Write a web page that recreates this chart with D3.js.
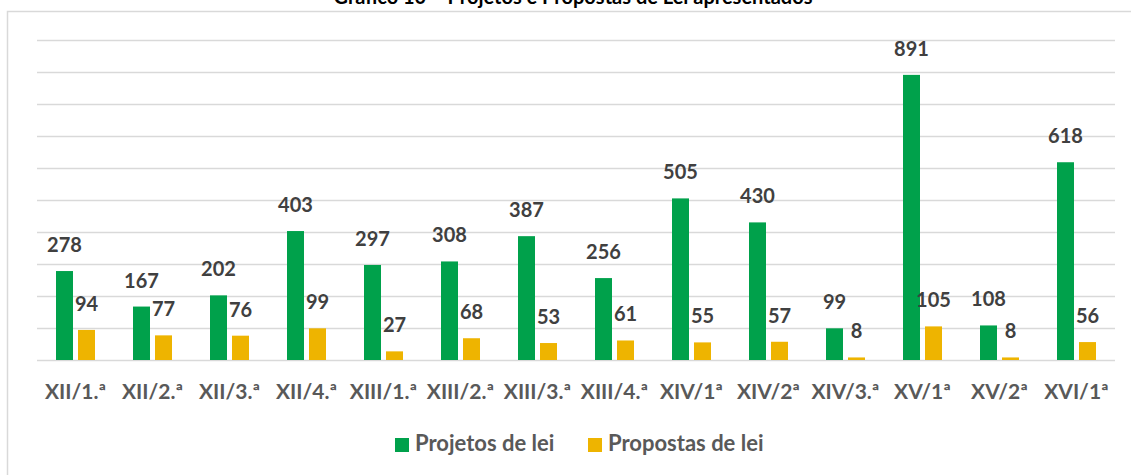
<!DOCTYPE html>
<html>
<head>
<meta charset="utf-8">
<script src="https://cdn.jsdelivr.net/npm/d3@7"></script>
<style>
  body { margin: 0; background: #fff; }
  svg { display: block; font-family: Lato, "Open Sans", sans-serif; }
</style>
</head>
<body>
<div id="chart"></div>
<script>
// legislative sessions
const sessions = ["XII/1.ª", "XII/2.ª", "XII/3.ª", "XII/4.ª", "XIII/1.ª", "XIII/2.ª", "XIII/3.ª",
  "XIII/4.ª", "XIV/1ª", "XIV/2ª", "XIV/3.ª", "XV/1ª", "XV/2ª", "XVI/1ª"];
const projetos = [278, 167, 202, 403, 297, 308, 387, 256, 505, 430, 99, 891, 108, 618];
const propostas = [94, 77, 76, 99, 27, 68, 53, 61, 55, 57, 8, 105, 8, 56];
const seriesNames = ["Projetos de lei", "Propostas de lei"];
const yTicks = d3.range(0, 1001, 100);

const width = 1131;
const height = 475;
const marginTop = 40;
const marginLeft = 37;
const marginRight = 16;
const plotBottom = 360;
const colors = ["#00A14B", "#EEB400"];

const data = sessions.map((s, i) => ({ name: s, values: [projetos[i], propostas[i]] }));

const svg = d3.select("#chart")
  .append("svg")
  .attr("width", width)
  .attr("height", height);

// title (partly clipped at the top, like the source)
svg.append("text")
  .attr("x", 573)
  .attr("y", 4)
  .attr("text-anchor", "middle")
  .attr("font-size", "20px")
  .attr("font-weight", "bold")
  .attr("fill", "#000")
  .text("Gráfico 10 – Projetos e Propostas de Lei apresentados");

// chart area border
svg.append("rect")
  .attr("x", 7.5)
  .attr("y", 11.5)
  .attr("width", width + 10)
  .attr("height", height + 10)
  .attr("fill", "none")
  .attr("stroke", "#d9d9d9")
  .attr("stroke-width", 1.5);

const x = d3.scaleBand()
  .domain(sessions)
  .range([marginLeft, width - marginRight]);

const y = d3.scaleLinear()
  .domain([0, 1000])
  .range([plotBottom, marginTop]);

// inner scale for the two bars of a group
const barW = 17;
const gap = 5;
const xs = d3.scaleOrdinal()
  .domain([0, 1])
  .range([-(barW + gap / 2), gap / 2]);

// gridlines
svg.append("g")
  .selectAll("line")
  .data(yTicks)
  .join("line")
  .attr("x1", marginLeft)
  .attr("x2", width - marginRight)
  .attr("y1", d => Math.round(y(d)) + 0.5)
  .attr("y2", d => Math.round(y(d)) + 0.5)
  .attr("stroke", "#d9d9d9")
  .attr("stroke-width", 1.5);

const groups = svg.append("g")
  .selectAll("g")
  .data(data)
  .join("g")
  .attr("transform", d => `translate(${x(d.name) + x.bandwidth() / 2},0)`);

groups.selectAll("rect")
  .data(d => d.values)
  .join("rect")
  .attr("x", (d, i) => xs(i))
  .attr("width", barW)
  .attr("y", d => y(d))
  .attr("height", d => y(0) - y(d))
  .attr("fill", (d, i) => colors[i]);

groups.selectAll("text")
  .data(d => d.values)
  .join("text")
  .attr("x", (d, i) => xs(i) + barW / 2)
  .attr("y", d => y(d) - 19)
  .attr("text-anchor", "middle")
  .attr("font-size", "20px")
  .attr("font-weight", "bold")
  .attr("fill", "#404040")
  .text(d => d);

// category axis
const xAxis = d3.axisBottom(x).tickSize(0).tickPadding(0);
svg.append("g")
  .attr("transform", `translate(0,${plotBottom})`)
  .call(xAxis)
  .call(g => g.attr("font-family", null).attr("font-size", null))
  .call(g => g.select(".domain").remove())
  .call(g => g.selectAll("text")
    .attr("dy", null)
    .attr("y", 39)
    .attr("font-size", "21px")
    .attr("font-weight", "bold")
    .attr("fill", "#595959"));

// legend
const legendX = [395, 588];
const legend = svg.append("g")
  .selectAll("g")
  .data(seriesNames)
  .join("g")
  .attr("transform", (d, i) => `translate(${legendX[i]},438)`);

legend.append("rect")
  .attr("width", 14)
  .attr("height", 14)
  .attr("fill", (d, i) => colors[i]);

legend.append("text")
  .attr("x", 20)
  .attr("y", 13)
  .attr("font-size", "22px")
  .attr("font-weight", "bold")
  .attr("fill", "#595959")
  .text(d => d);
</script>
</body>
</html>
